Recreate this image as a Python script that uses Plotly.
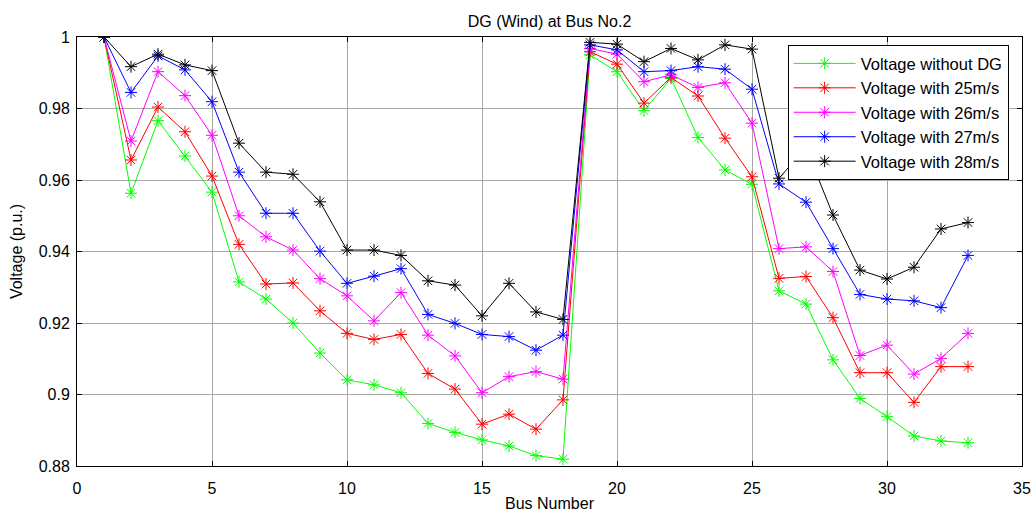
import plotly.graph_objects as go

bus = list(range(1, 34))

v_without_dg = [1.0, 0.9563, 0.9766, 0.9667, 0.9566, 0.9315, 0.9267, 0.9200, 0.9116, 0.9041,
                0.9027, 0.9005, 0.8919, 0.8894, 0.8873, 0.8856, 0.8829, 0.8819, 0.9950, 0.9903,
                0.9794, 0.9884, 0.9719, 0.9628, 0.9588, 0.9290, 0.9253, 0.9097, 0.8989, 0.8938,
                0.8884, 0.8870, 0.8865]
v_25 = [1.0, 0.9656, 0.9804, 0.9735, 0.9611, 0.9420, 0.9309, 0.9312, 0.9234, 0.9171,
        0.9154, 0.9168, 0.9059, 0.9015, 0.8917, 0.8945, 0.8903, 0.8985, 0.9959, 0.9924,
        0.9815, 0.9887, 0.9835, 0.9717, 0.9609, 0.9325, 0.9330, 0.9215, 0.9061, 0.9061,
        0.8978, 0.9078, 0.9078]
v_26 = [1.0, 0.9709, 0.9903, 0.9836, 0.9725, 0.9500, 0.9441, 0.9404, 0.9324, 0.9276,
        0.9206, 0.9285, 0.9166, 0.9108, 0.9005, 0.9050, 0.9064, 0.9043, 0.9968, 0.9952,
        0.9875, 0.9894, 0.9859, 0.9872, 0.9759, 0.9408, 0.9413, 0.9344, 0.9109, 0.9138,
        0.9057, 0.9101, 0.9171]
v_27 = [1.0, 0.9845, 0.9947, 0.9908, 0.9819, 0.9622, 0.9507, 0.9507, 0.9401, 0.9311,
        0.9331, 0.9352, 0.9224, 0.9199, 0.9168, 0.9162, 0.9124, 0.9166, 0.9978, 0.9964,
        0.9903, 0.9906, 0.9917, 0.9910, 0.9854, 0.9589, 0.9538, 0.9408, 0.9280, 0.9267,
        0.9262, 0.9243, 0.9389]
v_28 = [1.0, 0.9917, 0.9952, 0.9922, 0.9906, 0.9703, 0.9622, 0.9616, 0.9539, 0.9404,
        0.9404, 0.9389, 0.9318, 0.9306, 0.9220, 0.9311, 0.9231, 0.9210, 0.9985, 0.9980,
        0.9931, 0.9968, 0.9936, 0.9978, 0.9966, 0.9605, 0.9690, 0.9502, 0.9348, 0.9323,
        0.9356, 0.9463, 0.9481]

series_names = ["Voltage without DG", "Voltage with 25m/s", "Voltage with 26m/s",
                "Voltage with 27m/s", "Voltage with 28m/s"]
series_values = [v_without_dg, v_25, v_26, v_27, v_28]
series_colors = ["#00ff00", "#ff0000", "#ff00ff", "#0000ff", "#000000"]

x_ticks = [0, 5, 10, 15, 20, 25, 30, 35]
y_ticks = [0.88, 0.9, 0.92, 0.94, 0.96, 0.98, 1.0]
y_ticktext = ["0.88", "0.9", "0.92", "0.94", "0.96", "0.98", "1"]

FONT = "Liberation Sans, Arial, sans-serif"

fig = go.Figure()
for name, vals, col in zip(series_names, series_values, series_colors):
    fig.add_trace(go.Scatter(
        x=bus, y=vals, name=name, mode="lines+markers",
        line=dict(color=col, width=1),
        marker=dict(symbol="asterisk-open", size=10, color=col, line=dict(color=col, width=1)),
    ))

fig.update_layout(
    width=1035, height=512,
    margin=dict(l=77, r=13, t=37, b=46, autoexpand=False),
    paper_bgcolor="white", plot_bgcolor="white",
    font=dict(family=FONT, size=16, color="#000000"),
    title=dict(text="DG (Wind) at Bus No.2", x=0.5, xref="paper", y=1 - 21 / 512,
               yanchor="middle", xanchor="center", font=dict(size=16, family=FONT)),
    showlegend=True,
    legend=dict(x=0.752, y=0.981, xanchor="left", yanchor="top",
                bgcolor="white", bordercolor="black", borderwidth=1,
                itemwidth=62,
                font=dict(size=16.5, family=FONT), tracegroupgap=0),
)
fig.update_xaxes(
    range=[0, 35], tickvals=x_ticks, ticks="inside", ticklen=5, tickcolor="black",
    showline=True, linecolor="black", linewidth=1, mirror="allticks",
    showgrid=True, gridcolor="#a8a8a8", gridwidth=1, zeroline=False,
    tickfont=dict(size=16), ticklabelstandoff=8, automargin=False,
    title=dict(text="Bus Number", font=dict(size=16), standoff=9),
)
fig.update_yaxes(
    range=[0.88, 1.0], tickvals=y_ticks, ticktext=y_ticktext, ticks="inside", ticklen=5,
    tickcolor="black",
    showline=True, linecolor="black", linewidth=1, mirror="allticks",
    showgrid=True, gridcolor="#a8a8a8", gridwidth=1, zeroline=False,
    tickfont=dict(size=16), ticklabelstandoff=3, automargin=False,
    title=dict(text="Voltage (p.u.)", font=dict(size=16), standoff=12),
)

fig.write_html("out.html")
